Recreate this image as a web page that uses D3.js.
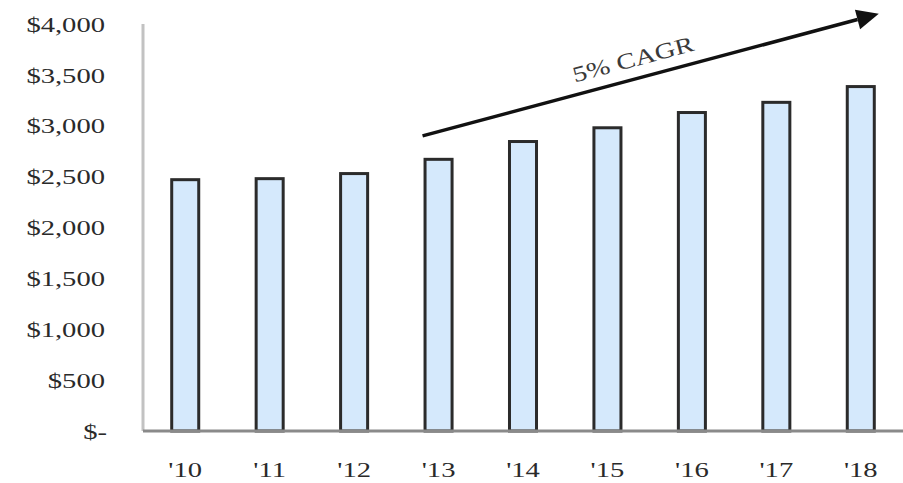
<!DOCTYPE html>
<html>
<head>
<meta charset="utf-8">
<script src="https://cdn.jsdelivr.net/npm/d3@7"></script>
<style>
  html, body { margin: 0; padding: 0; background: #fff; }
  svg { display: block; }
  text { font-family: "Liberation Serif", "DejaVu Serif", serif; }
</style>
</head>
<body>
<svg id="chart" width="903" height="483"></svg>
<script>
const categories = ["'10", "'11", "'12", "'13", "'14", "'15", "'16", "'17", "'18"];
const values = [2470, 2480, 2530, 2670, 2845, 2980, 3130, 3230, 3385];
const yTicks = [0, 500, 1000, 1500, 2000, 2500, 3000, 3500, 4000];
const yTickLabels = ["$-", "$500", "$1,000", "$1,500", "$2,000", "$2,500", "$3,000", "$3,500", "$4,000"];
const annotationText = "5% CAGR";

const W = 903, H = 483;
const svg = d3.select("#chart");
const sx = 1.3; // horizontal stretch of the source text

const x = d3.scaleBand().domain(categories).range([143, 903]).paddingInner(0.68).paddingOuter(0.34);
const y = d3.scaleLinear().domain([0, 4000]).range([431, 24]);

// left axis line
svg.append("line")
  .attr("x1", 143).attr("x2", 143)
  .attr("y1", y(4000)).attr("y2", y(0))
  .attr("stroke", "#c2c2c2").attr("stroke-width", 3);

// y labels
svg.append("g").selectAll("text")
  .data(yTicks)
  .join("text")
  .attr("transform", (d, i) => `translate(${i === 0 ? 107 : 105},${y(d)}) scale(${sx},1)`)
  .attr("text-anchor", "end")
  .attr("dy", "0.35em")
  .attr("font-size", 22)
  .attr("fill", "#2a2a2a")
  .text((d, i) => yTickLabels[i]);

// bars
svg.append("g").selectAll("rect")
  .data(values)
  .join("rect")
  .attr("x", (d, i) => x(categories[i]))
  .attr("width", x.bandwidth())
  .attr("y", d => y(d))
  .attr("height", d => y(0) - y(d))
  .attr("fill", "#d5e9fc")
  .attr("stroke", "#2b2b2b")
  .attr("stroke-width", 3);

// bottom axis line
svg.append("line")
  .attr("x1", 143).attr("x2", W)
  .attr("y1", y(0)).attr("y2", y(0))
  .attr("stroke", "#8a8a8a").attr("stroke-width", 3);

// x labels
svg.append("g").selectAll("text")
  .data(categories)
  .join("text")
  .attr("transform", d => `translate(${x(d) + x.bandwidth() / 2},470) scale(${sx},1)`)
  .attr("text-anchor", "middle")
  .attr("dy", "0.33em")
  .attr("font-size", 22)
  .attr("fill", "#2a2a2a")
  .text(d => d);

// CAGR arrow
const x0 = x("'13") + x.bandwidth() / 2 - 16, y0 = y(2900);
const x1 = x("'18") + x.bandwidth() / 2 + 18, y1 = y(4100);
const ang = Math.atan2(y1 - y0, x1 - x0);
const headLen = 22, headW = 10;
const bx = x1 - headLen * Math.cos(ang), by = y1 - headLen * Math.sin(ang);
svg.append("line")
  .attr("x1", x0).attr("y1", y0).attr("x2", bx).attr("y2", by)
  .attr("stroke", "#111").attr("stroke-width", 3.5);
svg.append("path")
  .attr("d", `M${x1},${y1} L${bx + headW * Math.sin(ang)},${by - headW * Math.cos(ang)} L${bx - headW * Math.sin(ang)},${by + headW * Math.cos(ang)} Z`)
  .attr("fill", "#111");

const deg = ang * 180 / Math.PI;
const tx = 633, ty = 59;
svg.append("text")
  .attr("transform", `translate(${tx},${ty}) rotate(${deg}) scale(${sx},1)`)
  .attr("text-anchor", "middle")
  .attr("dy", "0.35em")
  .attr("font-size", 22)
  .attr("fill", "#3a3a3a")
  .text(annotationText);
</script>
</body>
</html>
